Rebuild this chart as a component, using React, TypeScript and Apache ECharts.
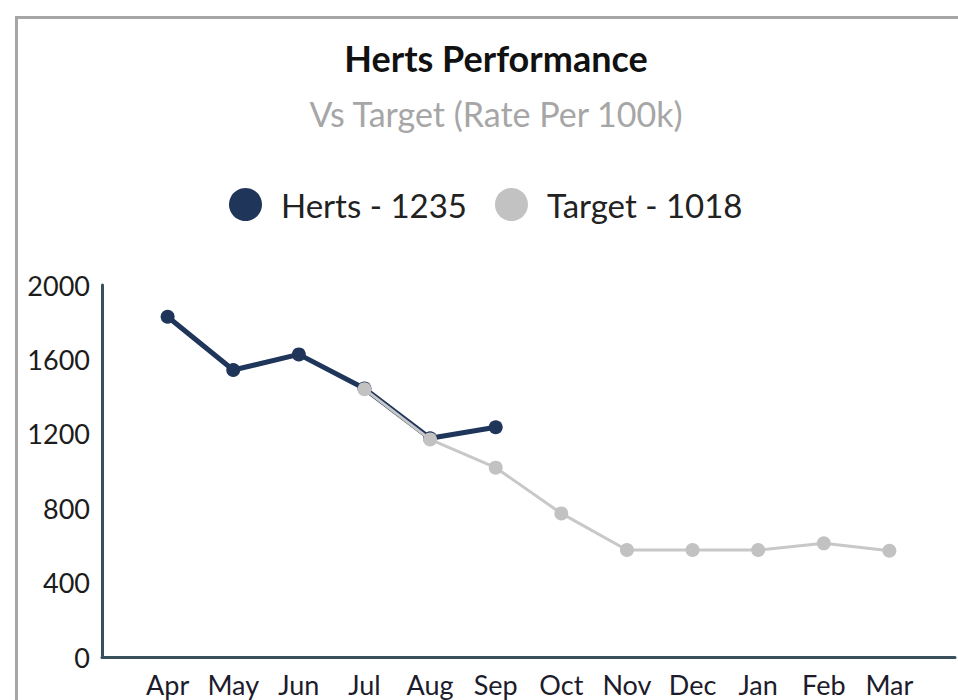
import React, { useEffect, useRef } from "react";
import * as echarts from "echarts";

const months = ["Apr", "May", "Jun", "Jul", "Aug", "Sep", "Oct", "Nov", "Dec", "Jan", "Feb", "Mar"];
const hertsValues: (number | null)[] = [1829, 1543, 1627, 1444, 1176, 1235, null, null, null, null, null, null];
const targetValues: (number | null)[] = [null, null, null, 1440, 1170, 1018, 772, 575, 575, 575, 611, 571];
const yTicks = { min: 0, max: 2000, interval: 400 };

const currentIndex = hertsValues.reduce((acc: number, v, i) => (v != null ? i : acc), 0);
const hertsName = `Herts - ${hertsValues[currentIndex]}`;
const targetName = `Target - ${targetValues[currentIndex]}`;

const FONT = "Lato, 'Open Sans', sans-serif";

export default function App() {
  const ref = useRef<HTMLDivElement>(null);
  useEffect(() => {
    if (!ref.current) return;
    const chart = echarts.init(ref.current, undefined, { renderer: "svg" });
    const toPairs = (arr: (number | null)[]) => arr.map((v, i) => [i, v]);
    chart.setOption({
      animation: false,
      backgroundColor: "#ffffff",
      graphic: [
        {
          type: "rect",
          left: 14,
          top: 15,
          shape: { x: 0, y: 0, width: 1000, height: 1000 },
          style: { fill: "none", stroke: "#a6a6a6", lineWidth: 3 },
          silent: true,
          z: -10,
        },
      ],
      title: {
        text: "Herts Performance",
        subtext: "Vs Target (Rate Per 100k)",
        left: 491,
        textAlign: "center",
        top: 35,
        itemGap: 20,
        textStyle: { fontFamily: FONT, fontSize: 36, fontWeight: "bold", color: "#111111" },
        subtextStyle: { fontFamily: FONT, fontSize: 34, color: "#a6a6a6" },
      },
      legend: {
        top: 183,
        left: 224,
        icon: "circle",
        itemWidth: 33,
        itemHeight: 33,
        itemGap: 28,
        textStyle: { fontFamily: FONT, fontSize: 33, color: "#222222", padding: [0, 0, 0, 14] },
        data: [hertsName, targetName],
      },
      grid: { left: 102, right: -2, top: 285, bottom: 43, containLabel: false },
      xAxis: {
        type: "value",
        min: -1,
        max: 12,
        interval: 1,
        splitLine: { show: false },
        axisTick: { show: false },
        axisLine: { show: true, onZero: false, lineStyle: { color: "#37505c", width: 3 } },
        axisLabel: {
          fontFamily: FONT,
          fontSize: 27,
          color: "#1c1c2c",
          margin: 14,
          formatter: (v: number) => months[v] ?? "",
        },
      },
      yAxis: {
        type: "value",
        min: yTicks.min,
        max: yTicks.max,
        interval: yTicks.interval,
        splitLine: { show: false },
        axisTick: { show: false },
        axisLine: { show: true, onZero: false, lineStyle: { color: "#37505c", width: 3 } },
        axisLabel: {
          fontFamily: FONT,
          fontSize: 27,
          color: "#1c1c1c",
          margin: 12,
          formatter: (v: number) => String(v),
        },
      },
      series: [
        {
          name: hertsName,
          type: "line",
          data: toPairs(hertsValues),
          color: "#1f355a",
          symbol: "circle",
          symbolSize: 14,
          lineStyle: { width: 5, color: "#1f355a" },
          itemStyle: { color: "#1f355a" },
          z: 2,
        },
        {
          name: targetName,
          type: "line",
          data: toPairs(targetValues),
          color: "#c4c4c4",
          symbol: "circle",
          symbolSize: 14,
          lineStyle: { width: 3, color: "#c8c8c8" },
          itemStyle: { color: "#c2c2c2" },
          z: 3,
        },
      ],
    });
    return () => chart.dispose();
  }, []);
  return <div ref={ref} style={{ position: "absolute", left: 0, top: 0, width: 958, height: 700 }} />;
}
